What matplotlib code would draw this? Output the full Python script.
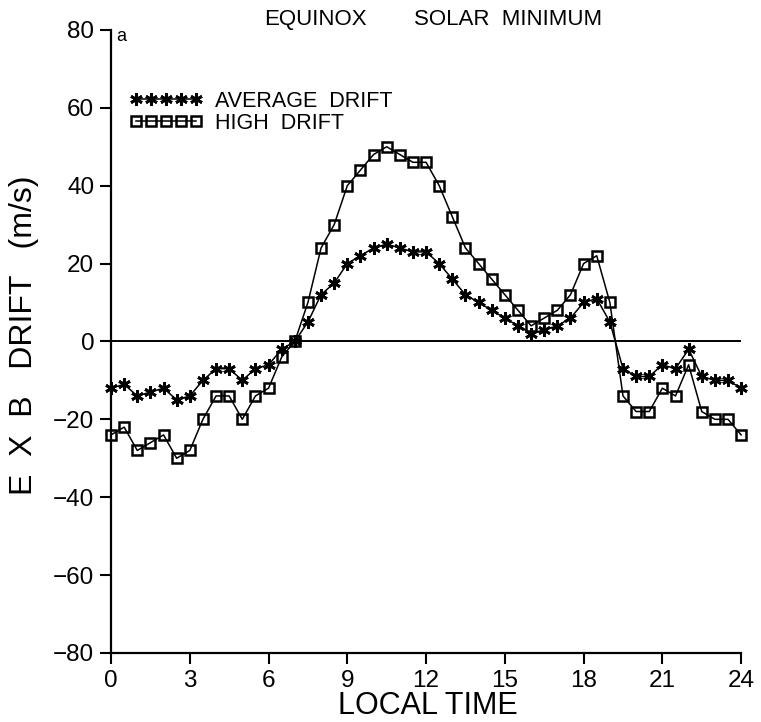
import numpy as np
import matplotlib.pyplot as plt
from matplotlib.lines import Line2D

plt.rcParams['font.family'] = ['Liberation Sans', 'DejaVu Sans']

# local time grid (half-hourly) and the two vertical drift models, m/s
local_time = np.arange(0, 24.5, 0.5)
average_drift = [-12, -11, -14, -13, -12, -15, -14, -10, -7, -7, -10, -7, -6, -2,
                 0, 5, 12, 15, 20, 22, 24, 25, 24, 23, 23,
                 20, 16, 12, 10, 8, 6, 4, 2, 3, 4, 6, 10, 11, 5,
                 -7, -9, -9, -6, -7, -2, -9, -10, -10, -12]
high_drift = [-24, -22, -28, -26, -24, -30, -28, -20, -14, -14, -20, -14, -12, -4,
              0, 10, 24, 30, 40, 44, 48, 50, 48, 46, 46,
              40, 32, 24, 20, 16, 12, 8, 4, 6, 8, 12, 20, 22, 10,
              -14, -18, -18, -12, -14, -6, -18, -20, -20, -24]

x_ticks = list(range(0, 25, 3))
y_ticks = list(range(-80, 81, 20))

fig = plt.figure(figsize=(7.61, 7.22), dpi=100)
ax = fig.add_axes([0.1459, 0.0956, 0.828, 0.863])

star = dict(marker=(6, 2, 0), markersize=9, markeredgewidth=2.0, color='k', lw=1.1)
square = dict(marker='s', markersize=7, markerfacecolor='none', markeredgewidth=1.8,
              color='k', lw=1.1)

ax.axhline(0, color='k', lw=1.4)
ax.plot(local_time, high_drift, clip_on=False, **square)
ax.plot(local_time, average_drift, clip_on=False, **star)

ax.set_xlim(0, 24)
ax.set_ylim(-80, 80)
ax.set_xticks(x_ticks)
ax.set_yticks(y_ticks)
ax.tick_params(direction='out', length=8, width=1.5, labelsize=17.5, pad=4)
for side in ['top', 'right']:
    ax.spines[side].set_visible(False)
for side in ['left', 'bottom']:
    ax.spines[side].set_linewidth(1.6)

ax.set_xlabel('LOCAL TIME', fontsize=22, va='center')
ax.xaxis.set_label_coords(0.503, -0.085)
ax.set_ylabel('E  X  B   DRIFT   (m/s)', fontsize=23, va='center')
ax.yaxis.set_label_coords(-0.138, 0.51)

ax.text(0.324, 1.016, 'EQUINOX', transform=ax.transAxes, fontsize=16,
        ha='center', va='center')
ax.text(0.63, 1.016, 'SOLAR  MINIMUM', transform=ax.transAxes, fontsize=16,
        ha='center', va='center')
ax.text(0.017, 0.99, 'a', transform=ax.transAxes, fontsize=13,
        ha='center', va='center')

handles = [Line2D([], [], **star), Line2D([], [], **square)]
ax.legend(handles, ['AVERAGE  DRIFT', 'HIGH  DRIFT'], loc='upper left',
          bbox_to_anchor=(0.029, 0.902), frameon=False, numpoints=5,
          handlelength=3.4, handletextpad=0.58, labelspacing=0.05,
          fontsize=15.5, borderaxespad=0, borderpad=0)

fig.savefig('out.png', dpi=100)
